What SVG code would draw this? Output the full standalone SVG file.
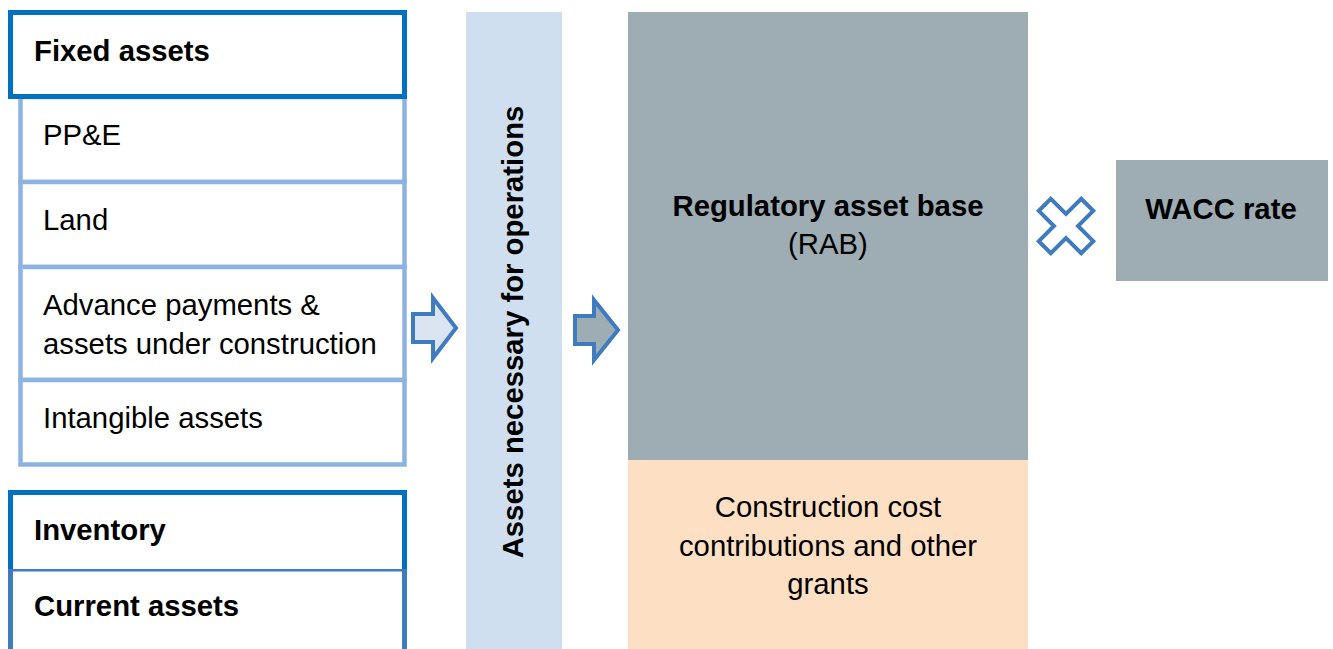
<svg xmlns="http://www.w3.org/2000/svg" width="1333" height="649" viewBox="0 0 1333 649">
  <style>
    text { font-family: "Liberation Sans", Arial, sans-serif; font-size: 29.3px; fill: #000; }
    .b { font-weight: bold; }
    .mid { text-anchor: middle; }
    .head { fill: #fff; stroke: #0070c0; stroke-width: 5; }
    .sub { fill: #fff; stroke: #8db3e2; stroke-width: 4.5; }
    .cur { fill: #fff; stroke: #3f7bbf; stroke-width: 5; }
    .arrow { stroke: #3f7bbf; stroke-width: 4; stroke-linejoin: miter; }
  </style>

  <!-- fixed assets stack -->
  <g id="pp-e">
    <rect class="sub" x="20.5" y="97" width="384" height="85"/>
    <text x="43" y="145">PP&amp;E</text>
  </g>
  <g id="land">
    <rect class="sub" x="20.5" y="182" width="384" height="85"/>
    <text x="43" y="230">Land</text>
  </g>
  <g id="advance-payments">
    <rect class="sub" x="20.5" y="267" width="384" height="113"/>
    <text x="43" y="315">Advance payments &amp;</text>
    <text x="43" y="354">assets under construction</text>
  </g>
  <g id="intangible-assets">
    <rect class="sub" x="20.5" y="380" width="384" height="84.5"/>
    <text x="43" y="428">Intangible assets</text>
  </g>
  <g id="fixed-assets">
    <rect class="head" x="10.5" y="12.5" width="394" height="84"/>
    <text class="b" x="34" y="61">Fixed assets</text>
  </g>

  <!-- current assets stack -->
  <g id="current-assets">
    <rect class="cur" x="10.5" y="569" width="394" height="100"/>
    <text class="b" x="34" y="616">Current assets</text>
  </g>
  <g id="inventory">
    <path d="M10.5 569 V492.5 H404.5 V569" fill="#fff" stroke="#0070c0" stroke-width="5"/>
    <text class="b" x="34" y="540">Inventory</text>
  </g>

  <!-- operating assets column -->
  <g id="operating-assets">
    <rect x="466" y="12" width="96" height="637" fill="#cfdfef"/>
    <text class="b mid" transform="translate(523 332) rotate(-90)">Assets necessary for operations</text>
  </g>

  <!-- regulatory asset base -->
  <g id="rab">
    <rect x="628" y="12" width="400" height="448" fill="#9eacb4"/>
    <text class="b mid" x="828" y="216">Regulatory asset base</text>
    <text class="mid" x="828" y="254">(RAB)</text>
  </g>
  <g id="grants">
    <rect x="628" y="460" width="400" height="189" fill="#fde0c3"/>
    <text class="mid" x="828" y="517">Construction cost</text>
    <text class="mid" x="828" y="556">contributions and other</text>
    <text class="mid" x="828" y="594">grants</text>
  </g>

  <!-- WACC -->
  <g id="wacc">
    <rect x="1116" y="160" width="212" height="121" fill="#9eacb4"/>
    <text class="b mid" x="1221" y="219">WACC rate</text>
  </g>

  <!-- connectors -->
  <g id="connectors">
    <path class="arrow" fill="#dbe5f1" d="M413 314 H433 V298 L456 328 L433 358 V342 H413 Z"/>
    <path class="arrow" fill="#9eacb4" d="M575 316 H594 V300 L618 330 L594 360 V344 H575 Z"/>
    <path class="arrow" fill="#fff" transform="translate(1066 226) rotate(45)"
          d="M-8.5 -30 H8.5 V-8.5 H30 V8.5 H8.5 V30 H-8.5 V8.5 H-30 V-8.5 H-8.5 Z"/>
  </g>
</svg>
